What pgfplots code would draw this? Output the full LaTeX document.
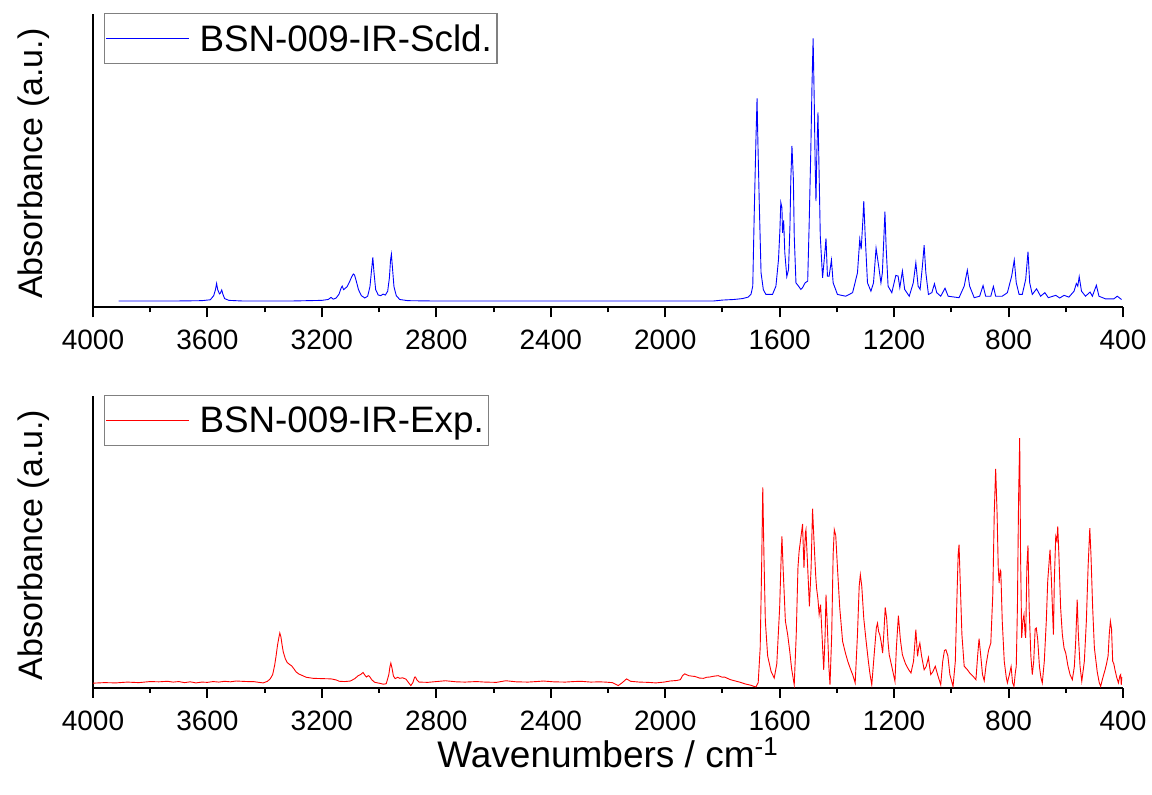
\documentclass[border=0pt]{standalone}
\usepackage{fontspec}
\setmainfont{Liberation Sans}
\usepackage{pgfplots}
\pgfplotsset{compat=1.18}

\pgfplotsset{
  spec/.style={
    scale only axis, width=515pt,
    xmin=400, xmax=4000, x dir=reverse,
    axis x line*=bottom, axis y line*=left,
    axis line style={line width=1pt, -},
    xtick={400,800,...,4000}, minor x tick num=1,
    ytick=\empty,
    tick align=outside, major tick length=5pt, minor tick length=2.5pt,
    every tick/.style={black, line width=1pt},
    /pgf/number format/1000 sep={}, /pgf/number format/assume math mode=true,
    xticklabel style={font=\fontsize{14}{16}\selectfont, yshift=-2.8pt},
    ylabel={Absorbance (a.u.)},
    every axis y label/.style={at={(axis description cs:-0.0487,0.49)}, anchor=base, rotate=90, font=\fontsize{17}{20}\selectfont},
    every axis x label/.style={at={(axis description cs:0.5,-0.274)}, anchor=base, font=\fontsize{18.5}{21}\selectfont},
    legend style={at={(axis description cs:0.0107,1.0034)}, anchor=north west, draw=gray, line width=0.6pt,
      inner xsep=0.5pt, inner ysep=3.5pt, font=\fontsize{18.4}{20}\selectfont,
      nodes={inner sep=2pt, text height=13.2pt, text depth=0.8pt}, column sep=3pt, cells={anchor=west}},
    legend image code/.code={\draw[#1] (0pt,0pt) -- (41.5pt,0pt);},
  }
}

\begin{document}
\begin{tikzpicture}
\path[use as bounding box] (0,0) rectangle (576pt,397.5pt);

\begin{axis}[spec, at={(46.5pt,243.75pt)}, anchor=south west, height=146.75pt, ymin=0, ymax=0.99]
\addplot[blue, line width=0.45pt] table {
3910 0.022
3700 0.022
3620 0.023
3590 0.026
3578 0.04
3572 0.06
3568 0.081
3564 0.06
3558 0.046
3555 0.048
3550 0.059
3546 0.045
3540 0.03
3525 0.024
3480 0.022
3300 0.022
3200 0.024
3178 0.027
3168 0.034
3160 0.028
3150 0.032
3140 0.045
3133 0.065
3129 0.072
3124 0.06
3118 0.065
3112 0.07
3104 0.085
3096 0.103
3090 0.113
3086 0.11
3080 0.09
3072 0.06
3062 0.04
3050 0.032
3040 0.038
3032 0.07
3027 0.12
3022 0.169
3018 0.12
3012 0.06
3003 0.042
2994 0.04
2986 0.045
2978 0.042
2970 0.055
2964 0.1
2960 0.16
2957 0.18
2953 0.13
2948 0.07
2940 0.04
2928 0.027
2900 0.023
2820 0.022
2000 0.022
1830 0.022
1800 0.025
1760 0.027
1730 0.03
1710 0.035
1700 0.045
1694 0.072
1689 0.309
1683 0.562
1679 0.705
1676 0.556
1671 0.342
1665 0.117
1657 0.06
1648 0.044
1625 0.044
1613 0.072
1604 0.162
1599 0.264
1596 0.354
1592 0.337
1590 0.252
1586 0.294
1582 0.185
1575 0.104
1569 0.128
1564 0.275
1561 0.432
1557 0.545
1552 0.432
1549 0.241
1543 0.083
1534 0.072
1526 0.061
1520 0.067
1511 0.083
1502 0.089
1497 0.275
1491 0.534
1487 0.748
1483 0.908
1479 0.691
1476 0.489
1473 0.359
1470 0.523
1466 0.658
1463 0.5
1458 0.241
1450 0.1
1442 0.185
1438 0.233
1433 0.106
1427 0.106
1419 0.16
1413 0.083
1398 0.044
1369 0.038
1345 0.05
1328 0.117
1320 0.23
1315 0.196
1309 0.297
1306 0.359
1301 0.241
1293 0.083
1281 0.055
1272 0.083
1263 0.2
1254 0.14
1246 0.083
1241 0.117
1236 0.23
1232 0.323
1228 0.207
1221 0.072
1208 0.05
1200 0.083
1194 0.108
1186 0.106
1180 0.067
1171 0.123
1163 0.061
1147 0.038
1133 0.083
1124 0.151
1116 0.072
1109 0.061
1101 0.14
1095 0.21
1089 0.117
1080 0.044
1068 0.05
1059 0.08
1051 0.05
1037 0.038
1022 0.065
1011 0.038
973 0.033
955 0.072
944 0.126
936 0.072
920 0.033
901 0.038
889 0.074
880 0.038
862 0.038
853 0.071
845 0.038
822 0.038
804 0.05
789 0.106
780 0.16
773 0.083
763 0.044
752 0.044
740 0.095
732 0.188
726 0.083
717 0.044
702 0.063
688 0.038
673 0.05
661 0.033
635 0.041
621 0.032
606 0.041
589 0.035
571 0.055
563 0.081
558 0.072
553 0.104
545 0.055
531 0.038
515 0.052
507 0.038
493 0.075
484 0.038
461 0.029
432 0.029
420 0.038
408 0.029
405 0.027
};
\addlegendentry{BSN-009-IR-Scld.\hspace{2pt}}
\end{axis}

\begin{axis}[spec, at={(46.5pt,53.5pt)}, anchor=south west, height=146pt, ymin=0, ymax=1.09,
  xlabel={Wavenumbers / cm\textsuperscript{-1}}]
\addplot[red, line width=0.45pt] table {
4000 0.018
3960 0.02
3920 0.019
3880 0.022
3840 0.02
3800 0.024
3770 0.023
3740 0.025
3720 0.022
3700 0.024
3680 0.02
3660 0.023
3640 0.019
3620 0.022
3600 0.021
3580 0.024
3560 0.022
3540 0.025
3520 0.023
3500 0.026
3480 0.025
3460 0.024
3440 0.024
3420 0.021
3405 0.019
3390 0.025
3380 0.035
3372 0.05
3365 0.085
3360 0.12
3355 0.16
3350 0.19
3347 0.205
3343 0.19
3339 0.16
3335 0.135
3328 0.11
3321 0.095
3313 0.088
3306 0.083
3298 0.072
3290 0.06
3280 0.052
3265 0.045
3255 0.04
3230 0.036
3200 0.035
3168 0.034
3150 0.03
3139 0.025
3120 0.024
3100 0.026
3085 0.035
3073 0.046
3065 0.05
3056 0.058
3050 0.048
3044 0.041
3038 0.046
3034 0.044
3025 0.03
3015 0.021
3000 0.018
2985 0.014
2975 0.016
2966 0.05
2962 0.08
2959 0.093
2955 0.075
2950 0.045
2944 0.035
2935 0.04
2928 0.036
2918 0.038
2906 0.033
2897 0.02
2889 0.009
2882 0.02
2876 0.04
2873 0.041
2868 0.03
2860 0.022
2830 0.021
2800 0.024
2768 0.027
2730 0.023
2700 0.022
2660 0.024
2630 0.022
2590 0.021
2557 0.027
2520 0.023
2480 0.022
2450 0.024
2426 0.026
2390 0.023
2350 0.022
2320 0.024
2295 0.025
2260 0.022
2230 0.023
2209 0.022
2185 0.02
2164 0.009
2150 0.02
2135 0.034
2121 0.025
2090 0.022
2060 0.021
2033 0.019
2004 0.022
1983 0.026
1960 0.028
1947 0.031
1940 0.045
1932 0.053
1918 0.046
1905 0.044
1896 0.043
1880 0.037
1866 0.036
1855 0.04
1844 0.041
1830 0.044
1815 0.046
1800 0.04
1793 0.041
1772 0.031
1758 0.027
1740 0.022
1720 0.015
1700 0.01
1690 0.006
1683 0.004
1675 0.02
1668 0.15
1663 0.45
1659 0.749
1655 0.5
1650 0.25
1642 0.12
1630 0.062
1619 0.037
1610 0.09
1600 0.3
1595 0.48
1592 0.566
1588 0.45
1580 0.25
1572 0.199
1565 0.14
1558 0.07
1549 0.012
1542 0.2
1536 0.45
1532 0.51
1526 0.56
1520 0.612
1515 0.448
1510 0.58
1508 0.591
1502 0.45
1496 0.305
1490 0.45
1485 0.669
1480 0.55
1474 0.42
1471 0.373
1466 0.33
1462 0.274
1457 0.311
1452 0.2
1446 0.068
1441 0.2
1438 0.348
1434 0.25
1428 0.08
1424 0.012
1418 0.2
1413 0.5
1409 0.591
1404 0.57
1398 0.45
1390 0.3
1380 0.174
1370 0.13
1362 0.1
1354 0.075
1345 0.05
1336 0.019
1328 0.2
1322 0.38
1318 0.423
1313 0.38
1306 0.26
1299 0.187
1290 0.1
1284 0.05
1278 0.012
1270 0.12
1262 0.225
1258 0.242
1254 0.21
1250 0.199
1245 0.17
1240 0.13
1235 0.22
1231 0.301
1226 0.26
1221 0.17
1217 0.124
1208 0.08
1197 0.025
1192 0.15
1185 0.27
1178 0.18
1171 0.124
1160 0.09
1150 0.07
1141 0.056
1132 0.1
1124 0.218
1120 0.15
1118 0.118
1114 0.15
1110 0.168
1104 0.12
1095 0.068
1088 0.08
1080 0.114
1076 0.08
1072 0.05
1065 0.06
1056 0.081
1048 0.05
1037 0.012
1030 0.1
1024 0.14
1019 0.143
1012 0.12
1005 0.05
994 0.006
986 0.1
980 0.35
976 0.5
973 0.535
969 0.4
963 0.2
955 0.081
945 0.07
935 0.055
925 0.045
914 0.031
908 0.12
903 0.184
898 0.13
891 0.05
885 0.027
878 0.09
870 0.14
862 0.168
855 0.35
850 0.65
845 0.818
840 0.65
836 0.45
833 0.392
829 0.44
827 0.435
822 0.25
815 0.1
808 0.04
804 0.019
797 0.05
791 0.08
786 0.02
781 0.006
776 0.06
773 0.081
769 0.3
765 0.7
761 0.933
758 0.5
754 0.187
750 0.25
746 0.274
742 0.2
740 0.187
736 0.45
732 0.532
728 0.3
722 0.12
717 0.05
712 0.1
707 0.22
703 0.224
698 0.18
692 0.08
687 0.04
682 0.019
675 0.1
668 0.25
663 0.4
655 0.516
650 0.4
645 0.25
643 0.199
640 0.4
635 0.566
631 0.55
628 0.603
624 0.497
618 0.3
612 0.2
606 0.149
600 0.13
592 0.08
585 0.05
577 0.031
570 0.08
565 0.18
560 0.33
556 0.2
550 0.08
544 0.025
535 0.1
528 0.25
522 0.45
516 0.597
512 0.5
506 0.3
500 0.15
490 0.06
483 0.02
478 0.006
470 0.04
462 0.07
457 0.093
452 0.12
448 0.2
444 0.249
440 0.22
436 0.1
432 0.09
428 0.068
422 0.04
416 0.019
411 0.045
408 0.05
406 0.012
404 0.04
};
\addlegendentry{BSN-009-IR-Exp.\hspace{2pt}}
\end{axis}
\end{tikzpicture}
\end{document}
